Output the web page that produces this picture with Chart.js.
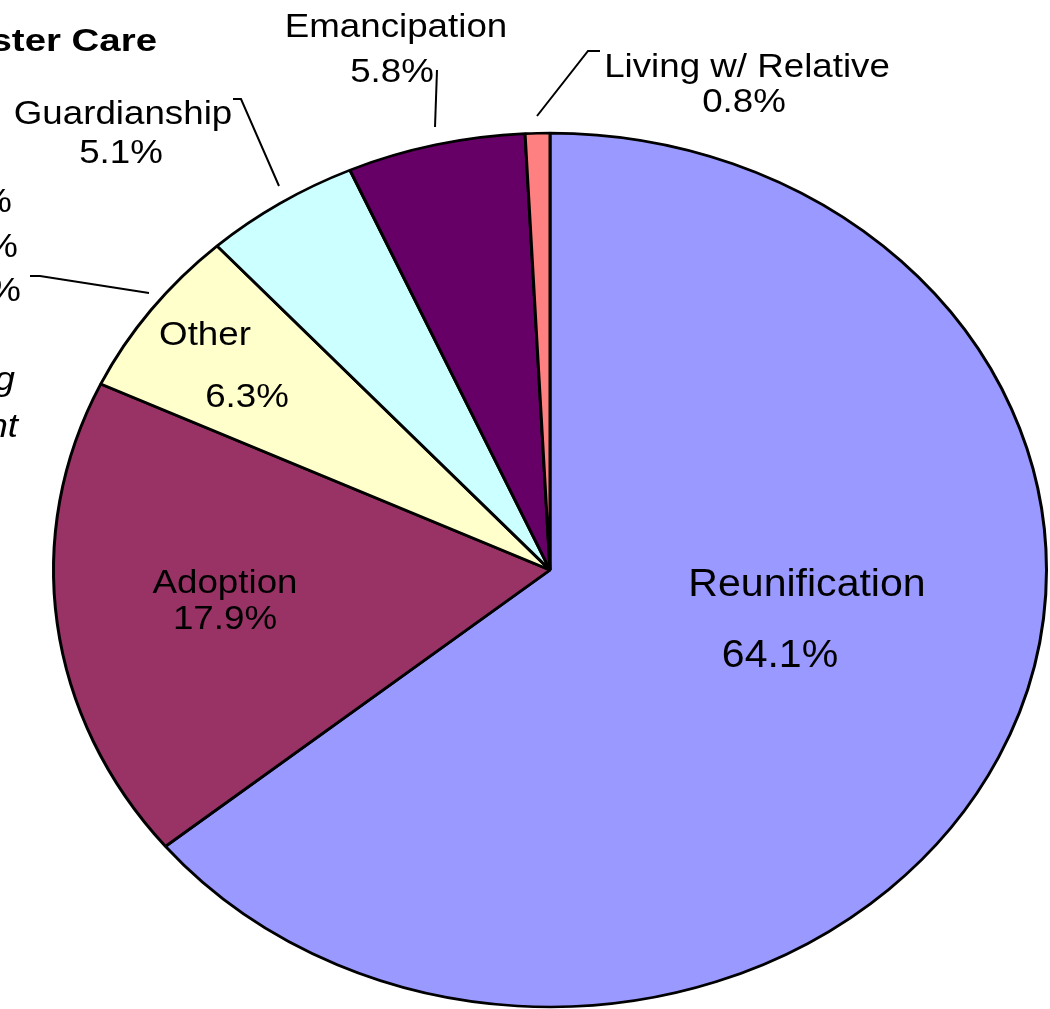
<!DOCTYPE html>
<html>
<head>
<meta charset="utf-8">
<script src="https://cdn.jsdelivr.net/npm/chart.js@4.4.1/dist/chart.umd.min.js"></script>
<style>
  html, body { margin: 0; padding: 0; overflow: hidden; background: #fff; }
  canvas { display: block; }
</style>
</head>
<body>
<canvas id="exits" width="1050" height="1080"></canvas>
<script>
// exits from foster care, by outcome (%)
const categories = ['Reunification', 'Adoption', 'Other', 'Guardianship', 'Emancipation', 'Living w/ Relative'];
const shares = [64.1, 17.9, 6.3, 5.1, 5.8, 0.8];
const sliceColors = ['#9999FF', '#993366', '#FFFFCC', '#CCFFFF', '#660066', '#FF8080'];

// label placement (name line, percent line) + leader lines, in page px
const labelLayout = [
  { name: [807, 596], pct: [780, 667], size: 38 },
  { name: [225, 593], pct: [225, 629], size: 34 },
  { name: [205, 345], pct: [247, 407], size: 34 },
  { name: [123, 124], pct: [121, 163], size: 34, leader: [[233, 99], [241, 99], [279, 186]] },
  { name: [396, 37], pct: [392, 82], size: 34, leader: [[437, 70], [435, 127]] },
  { name: [747, 77], pct: [744, 112], size: 34, leader: [[600, 51], [588, 51], [537, 116]] }
];

const STRETCH = 1.08;   // source image was widened a bit
const FLATTEN = 0.88;   // pie drawn as an ellipse

function stretchText(ctx, txt, x, y, font, align, sx) {
  ctx.save();
  ctx.translate(x, y);
  ctx.scale(sx || STRETCH, 1);
  ctx.font = font;
  ctx.textAlign = align || 'center';
  ctx.textBaseline = 'alphabetic';
  ctx.fillText(txt, 0, 0);
  ctx.restore();
}

const ellipse = {
  id: 'ellipse',
  beforeDatasetsDraw(chart) {
    const { ctx, chartArea: a } = chart;
    const cy = (a.top + a.bottom) / 2;
    ctx.save();
    ctx.translate(0, cy);
    ctx.scale(1, FLATTEN);
    ctx.translate(0, -cy);
  },
  afterDatasetsDraw(chart) {
    chart.ctx.restore();
  }
};

const labels = {
  id: 'labels',
  afterDraw(chart) {
    const ctx = chart.ctx;
    ctx.save();
    ctx.fillStyle = '#000';
    ctx.strokeStyle = '#000';
    ctx.lineWidth = 2;

    labelLayout.forEach((l, i) => {
      const f = l.size + 'px "Liberation Sans", Arial, sans-serif';
      stretchText(ctx, categories[i], l.name[0], l.name[1], f);
      stretchText(ctx, shares[i].toFixed(1) + '%', l.pct[0], l.pct[1], f);
      if (l.leader) {
        ctx.beginPath();
        l.leader.forEach((p, k) => k ? ctx.lineTo(p[0], p[1]) : ctx.moveTo(p[0], p[1]));
        ctx.stroke();
      }
    });

    // title and the left-hand labels, cut off by the page edge
    stretchText(ctx, 'Exits from Foster Care', 157, 51, 'bold 32px "Liberation Sans", Arial, sans-serif', 'right', 1.2);
    const f = '34px "Liberation Sans", Arial, sans-serif';
    stretchText(ctx, 'Runaway 0.4%', 12, 212, f, 'right');
    stretchText(ctx, 'Died 0.2%', 18, 257, f, 'right');
    stretchText(ctx, 'Transfer 0.2%', 21, 301, f, 'right');
    const fi = 'italic 34px "Liberation Sans", Arial, sans-serif';
    stretchText(ctx, 'Still Pending', 15, 390, fi, 'right');
    stretchText(ctx, 'Placement', 18, 437, fi, 'right');

    ctx.beginPath();
    ctx.moveTo(30, 276);
    ctx.lineTo(40, 276);
    ctx.lineTo(149, 293);
    ctx.stroke();
    ctx.restore();
  }
};

new Chart(document.getElementById('exits').getContext('2d'), {
  type: 'pie',
  data: {
    labels: categories,
    datasets: [{
      data: shares,
      backgroundColor: sliceColors,
      borderColor: '#000',
      borderWidth: 3
    }]
  },
  options: {
    responsive: false,
    animation: false,
    layout: { padding: { left: 52, right: 2, top: 72, bottom: 12 } },
    plugins: { legend: { display: false }, tooltip: { enabled: false } }
  },
  plugins: [ellipse, labels]
});
</script>
</body>
</html>
